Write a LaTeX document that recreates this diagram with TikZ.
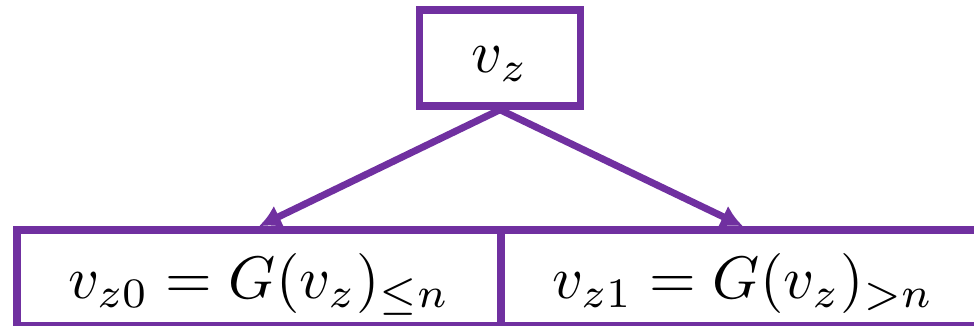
\documentclass[tikz,border=0pt]{standalone}
\usepackage{graphicx}
\usepackage{xcolor}
\usepackage{tikz}
\usetikzlibrary{arrows.meta}
\usetikzlibrary{calc,positioning}

\definecolor{boxpurple}{RGB}{112,48,160}
\newcommand{\groot}[1]{\raisebox{0pt}[\dimexpr\height+12pt\relax]{\scalebox{6}{$#1$}}}

\begin{document}
\begin{tikzpicture}[x=1pt,y=1pt,
    vbox/.style={draw=boxpurple, line width=7.5pt, fill=white, inner sep=0pt,
        minimum width=#1, minimum height=96pt},
    tak/.style={draw=boxpurple, line width=7pt, -{Latex[length=22pt,width=24pt]}}]

    % Rand
    \useasboundingbox (0,0) rectangle (974,326);

    % Knopen
    \node[vbox=161pt] (vz) at (500,268) {\groot{v_z}};
    \node[vbox=484pt] (vzzero) at (259,48) {\groot{v_{z0} = G(v_z)_{\le n}}};
    \node[vbox=484pt] (vzone) at (743,48) {\groot{v_{z1} = G(v_z)_{>n}}};

    % Pijlen
    \draw[tak] (vz.south) -- (vzzero.north);
    \draw[tak] (vz.south) -- (vzone.north);

\end{tikzpicture}
\end{document}
